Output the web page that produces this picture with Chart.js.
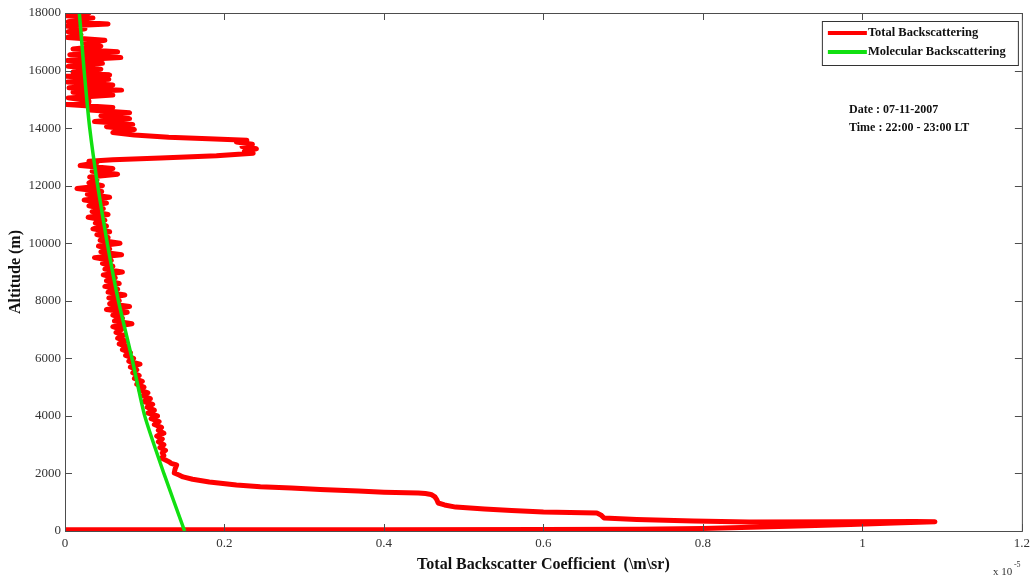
<!DOCTYPE html>
<html>
<head>
<meta charset="utf-8">
<title>Total and molecular backscatter profile</title>
<script src="https://cdn.jsdelivr.net/npm/chart.js@4.4.1/dist/chart.umd.min.js"></script>
<style>
  html, body { margin: 0; padding: 0; background: #fff; }
  #wrap { width: 1035px; height: 579px; }
</style>
</head>
<body>
<div id="wrap"><canvas id="profileChart" width="1035" height="579"></canvas></div>
<script>
// values; backscatter in units of 1e-5 /m/sr, altitude in m
const totalAltitude = [
  40, 40, 45, 50, 60, 90, 130, 180, 230, 280, 320, 330, 320, 310, 348, 400, 452, 560, 626, 660,
  710, 765, 830, 904, 973, 1100, 1182, 1270, 1300, 1320, 1350, 1390, 1440, 1494, 1540, 1598, 1703, 1800, 1880, 1946,
  2016, 2150, 2294, 2350, 2398, 2537, 2620, 2711, 2800, 2900, 3000, 3100, 3200,
  3300, 3400, 3500, 3600, 3700, 3800, 3900, 4000, 4100, 4200, 4300, 4400, 4500, 4600, 4700, 4800, 4900, 5000,
  5100, 5200, 5300, 5400, 5500, 5600, 5700, 5800, 5900, 6000, 6100, 6200, 6300, 6400, 6500, 6600, 6700, 6800,
  6900, 7000, 7100, 7200, 7300, 7400, 7500, 7600, 7700, 7800, 7900, 8000, 8100, 8200, 8300, 8400, 8500, 8600,
  8700, 8800, 8900, 9000, 9100, 9200, 9300, 9400, 9500, 9600, 9700, 9800, 9900, 10000, 10100, 10200, 10300, 10400,
  10500, 10600, 10700, 10800, 10900, 11000, 11100, 11200, 11300, 11400, 11500, 11600, 11700, 11800, 11900, 12000,
  12100, 12200, 12300, 12400, 12500, 12600, 12700, 12800, 12850,
  12900, 12960, 13040, 13130, 13200, 13280, 13360, 13440, 13520, 13580, 13630, 13680, 13760, 13850, 13950, 14050,
  14130, 14230, 14330, 14430, 14530, 14630, 14720, 14820, 14900,
  14950, 15050, 15150, 15250, 15320, 15400, 15500, 15600, 15700, 15800, 15850, 15950, 16050, 16150, 16250, 16350,
  16450, 16550, 16650, 16750, 16850, 16950, 17050, 17150, 17250, 17350, 17450, 17550, 17620, 17700, 17830, 17900, 18000
];
const totalBackscatter = [
  0.000, 0.140, 0.400, 0.600, 0.720, 0.800, 0.860, 0.930, 0.985, 1.040, 1.091, 1.066, 0.983, 0.858, 0.788, 0.717, 0.676, 0.672, 0.667, 0.600,
  0.560, 0.526, 0.490, 0.476, 0.468, 0.466, 0.464, 0.459, 0.452, 0.443, 0.400, 0.368, 0.320, 0.284, 0.245, 0.215, 0.181, 0.160, 0.148, 0.143,
  0.137, 0.138, 0.140, 0.133, 0.131, 0.121, 0.124, 0.122, 0.126, 0.119, 0.124, 0.117, 0.122,
  0.115, 0.124, 0.117, 0.121, 0.112, 0.118, 0.108, 0.116, 0.104, 0.112, 0.103, 0.110, 0.099, 0.107, 0.097, 0.104, 0.094, 0.099,
  0.090, 0.097, 0.087, 0.093, 0.085, 0.090, 0.082, 0.094, 0.080, 0.086, 0.076, 0.082, 0.072, 0.078, 0.068, 0.077, 0.066, 0.074,
  0.064, 0.071, 0.060, 0.084, 0.062, 0.072, 0.060, 0.078, 0.052, 0.081, 0.056, 0.068, 0.055, 0.075, 0.054, 0.066, 0.050, 0.068,
  0.052, 0.063, 0.048, 0.072, 0.050, 0.060, 0.047, 0.058, 0.037, 0.071, 0.045, 0.056, 0.042, 0.069, 0.044, 0.054, 0.040, 0.056,
  0.035, 0.052, 0.038, 0.050, 0.029, 0.054, 0.034, 0.048, 0.030, 0.052, 0.024, 0.056, 0.028, 0.046, 0.015, 0.047,
  0.030, 0.040, 0.031, 0.066, 0.034, 0.060, 0.019, 0.040, 0.030,
  0.060, 0.120, 0.190, 0.236, 0.225, 0.240, 0.222, 0.235, 0.215, 0.228, 0.180, 0.130, 0.087, 0.060, 0.087, 0.052,
  0.085, 0.037, 0.081, 0.045, 0.081, 0.031, 0.060, 0.002, 0.030,
  0.030, 0.004, 0.060, 0.010, 0.071, 0.005, 0.060, 0.003, 0.055, 0.002, 0.056, 0.010, 0.045, 0.004, 0.047, 0.003,
  0.070, 0.006, 0.066, 0.010, 0.045, 0.025, 0.050, 0.003, 0.020, 0.004, 0.025, 0.002, 0.054, 0.004, 0.035, 0.002, 0.030
];

const molecularAltitude = [0, 2000, 4000, 6000, 8000, 10000, 12000, 14000, 16000, 18000];
const molecularBackscatter = [0.150, 0.124, 0.100, 0.084, 0.067, 0.053, 0.041, 0.031, 0.024, 0.018];

const xTickLabels = ["0", "0.2", "0.4", "0.6", "0.8", "1", "1.2"];
const yTickLabels = ["0", "2000", "4000", "6000", "8000", "10000", "12000", "14000", "16000", "18000"];
const seriesLabels = ["Total Backscattering", "Molecular Backscattering"];
const noteLines = ["Date : 07-11-2007", "Time : 22:00 - 23:00 LT"];

const serif = "'Liberation Serif', 'Times New Roman', serif";
const frameColor = "#4d4d4d";

// MATLAB style box: frame, inward ticks on all four sides, boxed legend and notes
const matlabBox = {
  id: "matlabBox",
  afterDraw(chart) {
    const { ctx, chartArea: a, scales } = chart;
    const x = scales.x, y = scales.y;
    ctx.save();
    ctx.strokeStyle = frameColor;
    ctx.lineWidth = 1;
    ctx.strokeRect(a.left + 0.5, a.top + 0.5, a.right - a.left, a.bottom - a.top);

    ctx.beginPath();
    x.ticks.forEach((t) => {
      const px = Math.round(x.getPixelForValue(t.value)) + 0.5;
      ctx.moveTo(px, a.bottom); ctx.lineTo(px, a.bottom - 7);
      ctx.moveTo(px, a.top); ctx.lineTo(px, a.top + 7);
    });
    y.ticks.forEach((t) => {
      const py = Math.round(y.getPixelForValue(t.value)) + 0.5;
      ctx.moveTo(a.left, py); ctx.lineTo(a.left + 7, py);
      ctx.moveTo(a.right, py); ctx.lineTo(a.right - 7, py);
    });
    ctx.stroke();

    // legend
    const bx = a.right - 200, by = a.top + 8, bw = 196, bh = 44;
    ctx.fillStyle = "#fff";
    ctx.fillRect(bx, by, bw, bh);
    ctx.strokeStyle = "#333";
    ctx.strokeRect(bx + 0.5, by + 0.5, bw, bh);
    ctx.font = "bold 12.5px " + serif;
    ctx.textBaseline = "middle";
    chart.data.datasets.forEach((ds, i) => {
      const ly = by + 12 + i * 19;
      ctx.strokeStyle = ds.borderColor;
      ctx.lineWidth = 4;
      ctx.beginPath();
      ctx.moveTo(bx + 6, ly);
      ctx.lineTo(bx + 45, ly);
      ctx.stroke();
      ctx.fillStyle = "#111";
      ctx.fillText(seriesLabels[i], bx + 46, ly);
    });

    // date / time note
    ctx.font = "bold 12px " + serif;
    ctx.fillStyle = "#111";
    noteLines.forEach((line, i) => ctx.fillText(line, a.left + 784, a.top + 97 + i * 18));

    // exponent label under the right end of the x axis
    ctx.fillStyle = "#333";
    ctx.textBaseline = "alphabetic";
    ctx.font = "11px " + serif;
    ctx.fillText("x 10", a.right - 29, a.bottom + 44);
    ctx.font = "8px " + serif;
    ctx.fillText("-5", a.right - 8, a.bottom + 36);
    ctx.restore();
  }
};

const ctx = document.getElementById("profileChart").getContext("2d");
const profileChart = new Chart(ctx, {
  type: "line",
  data: {
    datasets: [
      {
        label: seriesLabels[0],
        data: totalAltitude.map((alt, i) => ({ x: totalBackscatter[i], y: alt })),
        borderColor: "#ff0000",
        borderWidth: 5,
        borderJoinStyle: "round",
        borderCapStyle: "round",
        pointRadius: 0,
        tension: 0,
        order: 1,
      },
      {
        label: seriesLabels[1],
        data: molecularAltitude.map((alt, i) => ({ x: molecularBackscatter[i], y: alt })),
        borderColor: "#11e011",
        borderWidth: 3.5,
        pointRadius: 0,
        tension: 0.2,
        order: 0,
      },
    ],
  },
  options: {
    responsive: false,
    animation: false,
    events: [],
    layout: { padding: { top: 13, right: 8, left: 0, bottom: 0 } },
    plugins: {
      legend: { display: false },
      tooltip: { enabled: false },
    },
    scales: {
      x: {
        type: "linear",
        min: 0,
        max: 1.2,
        grid: { display: false, drawTicks: false },
        border: { display: false },
        ticks: {
          stepSize: 0.2,
          padding: 5,
          color: "#333",
          font: { family: serif, size: 13 },
          callback: (v, i) => xTickLabels[i],
        },
        title: {
          display: true,
          text: "Total Backscatter Coefficient  (\\m\\sr)",
          color: "#111",
          font: { family: serif, size: 16, weight: "bold" },
          padding: { top: 0, bottom: 5 },
        },
        afterFit: (scale) => { scale.height = 48; },
      },
      y: {
        type: "linear",
        min: 0,
        max: 18000,
        grid: { display: false, drawTicks: false },
        border: { display: false },
        ticks: {
          stepSize: 2000,
          padding: 4,
          color: "#333",
          font: { family: serif, size: 13 },
          callback: (v, i) => yTickLabels[i],
        },
        title: {
          display: true,
          text: "Altitude (m)",
          color: "#111",
          font: { family: serif, size: 16, weight: "bold" },
          padding: { top: 6, bottom: 0 },
        },
        afterFit: (scale) => { scale.width = 65; },
      },
    },
  },
  plugins: [matlabBox],
});
</script>
</body>
</html>
